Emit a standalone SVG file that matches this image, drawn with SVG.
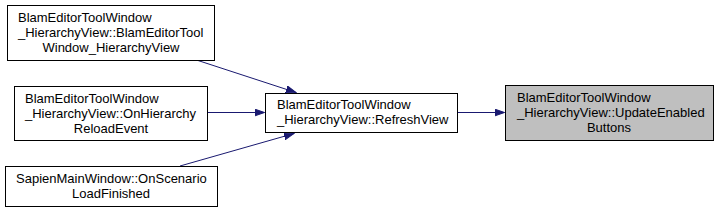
<svg xmlns="http://www.w3.org/2000/svg" width="719" height="213" viewBox="0 0 719 213">
<style>
.box{fill:#ffffff;stroke:#000000;stroke-width:1}
.cur{fill:#bfbfbf;stroke:#000000;stroke-width:1}
text{font-family:"Liberation Sans",Arial,sans-serif;font-size:13px;fill:#000000}
.m{text-anchor:middle}
.edge{fill:none;stroke:#191970;stroke-width:1}
</style>
<defs>
<marker id="arr" markerUnits="userSpaceOnUse" markerWidth="11" markerHeight="8" refX="10" refY="4" orient="auto">
<path d="M0,0.5 L10,4 L0,7.5 z" fill="#191970" stroke="#191970" stroke-width="1"/>
</marker>
</defs>
<g id="connectors">
<path class="edge" d="M198,60.5 L296,92.5" marker-end="url(#arr)"/>
<path class="edge" d="M207.5,112.5 L264.5,112.5" marker-end="url(#arr)"/>
<path class="edge" d="M180,166 L294,133.5" marker-end="url(#arr)"/>
<path class="edge" d="M457.5,112.5 L504.5,112.5" marker-end="url(#arr)"/>
</g>
<g id="node1">
<rect class="box" x="7.5" y="5.5" width="207" height="55"/>
<text x="18" y="22">BlamEditorToolWindow</text>
<text x="18" y="37">_HierarchyView::BlamEditorTool</text>
<text class="m" x="111" y="52">Window_HierarchyView</text>
</g>
<g id="node2">
<rect class="box" x="14.5" y="86.5" width="193" height="54"/>
<text x="25" y="103">BlamEditorToolWindow</text>
<text x="25" y="118">_HierarchyView::OnHierarchy</text>
<text class="m" x="111" y="133">ReloadEvent</text>
</g>
<g id="node3">
<rect class="box" x="5.5" y="166.5" width="212" height="40"/>
<text x="16" y="183">SapienMainWindow::OnScenario</text>
<text class="m" x="111" y="198">LoadFinished</text>
</g>
<g id="node4">
<rect class="box" x="265.5" y="93.5" width="192" height="39"/>
<text x="277" y="109">BlamEditorToolWindow</text>
<text x="277" y="124">_HierarchyView::RefreshView</text>
</g>
<g id="node5">
<rect class="cur" x="505.5" y="85.5" width="208" height="55"/>
<text x="517" y="102">BlamEditorToolWindow</text>
<text x="517" y="117">_HierarchyView::UpdateEnabled</text>
<text class="m" x="609" y="132">Buttons</text>
</g>
</svg>
